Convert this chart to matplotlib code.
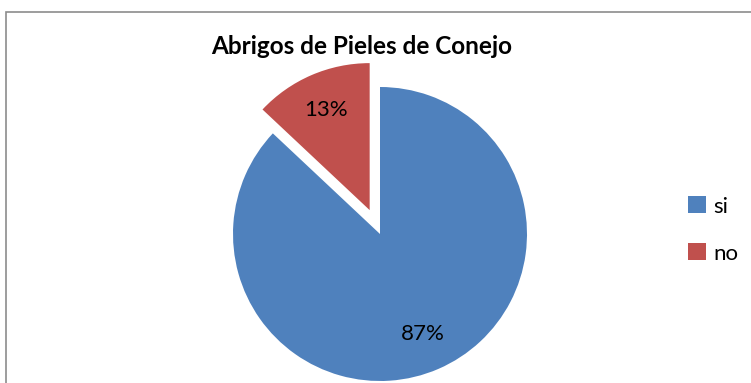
import matplotlib.pyplot as plt
from matplotlib.patches import Rectangle

# datos de la encuesta
categorias = ['si', 'no']
porcentajes = [87, 13]
colores = ['#4F81BD', '#C0504D']
titulo = 'Abrigos de Pieles de Conejo'

plt.rcParams['font.family'] = ['Lato', 'DejaVu Sans']

fig = plt.figure(figsize=(7.51, 3.83), dpi=100)

# marco gris del grafico
fig.add_artist(Rectangle((6 / 751, -0.05), 1.0, 1 - 12 / 383 + 0.05,
                         transform=fig.transFigure, fill=False,
                         edgecolor='#8c8c8c', linewidth=1.2))

ax = fig.add_axes([233 / 751, 2 / 383, 294 / 751, 294 / 383])
wedges, textos, autotextos = ax.pie(
    porcentajes, colors=colores, startangle=90, counterclock=False,
    explode=[0, 0.177], autopct='%d%%', pctdistance=0.74,
    textprops={'fontsize': 16, 'color': 'black'})
for w in wedges:
    w.set_clip_on(False)
ax.set_xlim(-1, 1)
ax.set_ylim(-1, 1)
ax.set_aspect('auto')
ax.axis('off')

fig.text(362 / 751, 1 - 47 / 383, titulo, ha='center', va='center',
         fontsize=17.5, fontweight='bold')

fig.legend(wedges, categorias, loc='center left',
           bbox_to_anchor=(668 / 751, 1 - 230 / 383), frameon=False,
           fontsize=16, handlelength=0.8, handleheight=0.8,
           handletextpad=0.35, labelspacing=1.2)

fig.savefig('out.png', dpi=100)
